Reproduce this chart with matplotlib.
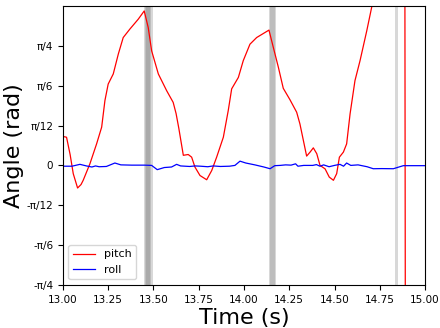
import numpy as np
import matplotlib
matplotlib.use("Agg")
import matplotlib.pyplot as plt

# ---- data (time in s, angles in degrees -> converted to rad) ----
pitch_t = [13.000, 13.020, 13.040, 13.057, 13.081, 13.100, 13.112, 13.149, 13.186, 13.214,
           13.232, 13.250, 13.278, 13.306, 13.333, 13.370, 13.416, 13.449, 13.471, 13.490,
           13.527, 13.573, 13.609, 13.625, 13.640, 13.665, 13.692, 13.711, 13.729, 13.757,
           13.794, 13.822, 13.849, 13.886, 13.913, 13.932, 13.969, 13.996, 14.033, 14.070,
           14.138, 14.162, 14.190, 14.217, 14.254, 14.291, 14.309, 14.328, 14.346, 14.365,
           14.383, 14.402, 14.420, 14.448, 14.471, 14.494, 14.512, 14.527, 14.549, 14.567,
           14.586, 14.613, 14.641, 14.678, 14.705, 14.750, 14.800, 14.850, 14.888, 14.892,
           14.950, 15.000]
pitch_deg = [10.9, 10.6, 4.0, -3.1, -8.5, -7.2, -5.6, 0.6, 8.1, 14.4,
             24.4, 30.6, 34.4, 41.9, 48.1, 51.3, 55.0, 58.1, 51.9, 43.1,
             34.4, 28.1, 23.7, 19.5, 14.0, 3.8, 4.1, 3.1, -0.6, -3.8,
             -5.4, -1.9, 3.1, 10.6, 20.6, 28.8, 33.1, 39.4, 45.6, 48.1,
             50.9, 44.4, 36.9, 29.0, 24.7, 20.0, 15.6, 9.4, 3.5, 5.0,
             6.6, 4.4, 0.0, -1.3, -4.4, -5.6, -3.1, 3.1, 5.0, 8.1,
             19.4, 31.9, 39.4, 50.6, 59.4, 75.0, 90.0, 100.0, 105.0, -105.0,
             -100.0, -98.0]

roll_t = [13.000, 13.050, 13.094, 13.130, 13.160, 13.180, 13.200, 13.240, 13.287, 13.320,
          13.380, 13.450, 13.490, 13.521, 13.560, 13.600, 13.628, 13.650, 13.700, 13.730,
          13.760, 13.800, 13.830, 13.870, 13.920, 13.950, 13.978, 14.010, 14.060, 14.110,
          14.144, 14.170, 14.200, 14.230, 14.260, 14.285, 14.298, 14.330, 14.380, 14.400,
          14.420, 14.440, 14.470, 14.500, 14.530, 14.550, 14.567, 14.590, 14.630, 14.680,
          14.714, 14.760, 14.825, 14.880, 14.950, 15.000]
roll_deg = [-0.3, -0.3, 0.4, -0.2, -0.6, -0.2, -0.5, -0.4, 0.9, 0.2,
            0.1, 0.1, 0.0, -1.6, -0.8, -0.6, 0.4, -0.2, -0.4, -0.2,
            -0.3, -0.5, -0.2, -0.4, -0.3, 0.0, 1.6, 0.9, 0.2, -0.6,
            -1.25, -0.1, 0.0, 0.2, 0.1, 0.6, -0.3, 0.0, 0.0, 0.3,
            -0.3, 0.2, -0.5, 0.0, 0.4, -0.3, 0.9, 0.0, 0.2, -0.5,
            -1.25, -1.2, -1.25, -0.1, -0.1, -0.1]

span_starts = [13.447, 13.452, 13.458, 14.137, 14.141, 14.834]
span_ends   = [13.495, 13.486, 13.480, 14.178, 14.172, 14.850]

ytick_vals = [-np.pi/4, -np.pi/6, -np.pi/12, 0, np.pi/12, np.pi/6, np.pi/4]
ytick_labels = ['-π/4', '-π/6', '-π/12', '0', 'π/12', 'π/6', 'π/4']
xtick_vals = [13.00, 13.25, 13.50, 13.75, 14.00, 14.25, 14.50, 14.75, 15.00]

pitch = np.deg2rad(pitch_deg)
roll = np.deg2rad(roll_deg)

fig = plt.figure(figsize=(4.4, 3.28), dpi=100)
ax = fig.add_axes([0.143, 0.131, 0.823, 0.851])

for s, e in zip(span_starts, span_ends):
    ax.axvspan(s, e, color='gray', alpha=0.3, lw=0)

ax.plot(pitch_t, pitch, color='red', lw=0.9, label='pitch')
ax.plot(roll_t, roll, color='blue', lw=0.9, label='roll')

ax.set_xlim(13.0, 15.0)
ax.set_ylim(-np.pi/4, np.pi/3)
ax.set_yticks(ytick_vals)
ax.set_yticklabels(ytick_labels)
ax.set_xticks(xtick_vals)
ax.set_xticklabels([f'{v:.2f}' for v in xtick_vals])
ax.tick_params(labelsize=7.5)
ax.set_xlabel('Time (s)', fontsize=16, labelpad=2)
ax.set_ylabel('Angle (rad)', fontsize=16, labelpad=2)
ax.legend(loc='lower left', fontsize=8)

fig.savefig('out.png', dpi=100)
